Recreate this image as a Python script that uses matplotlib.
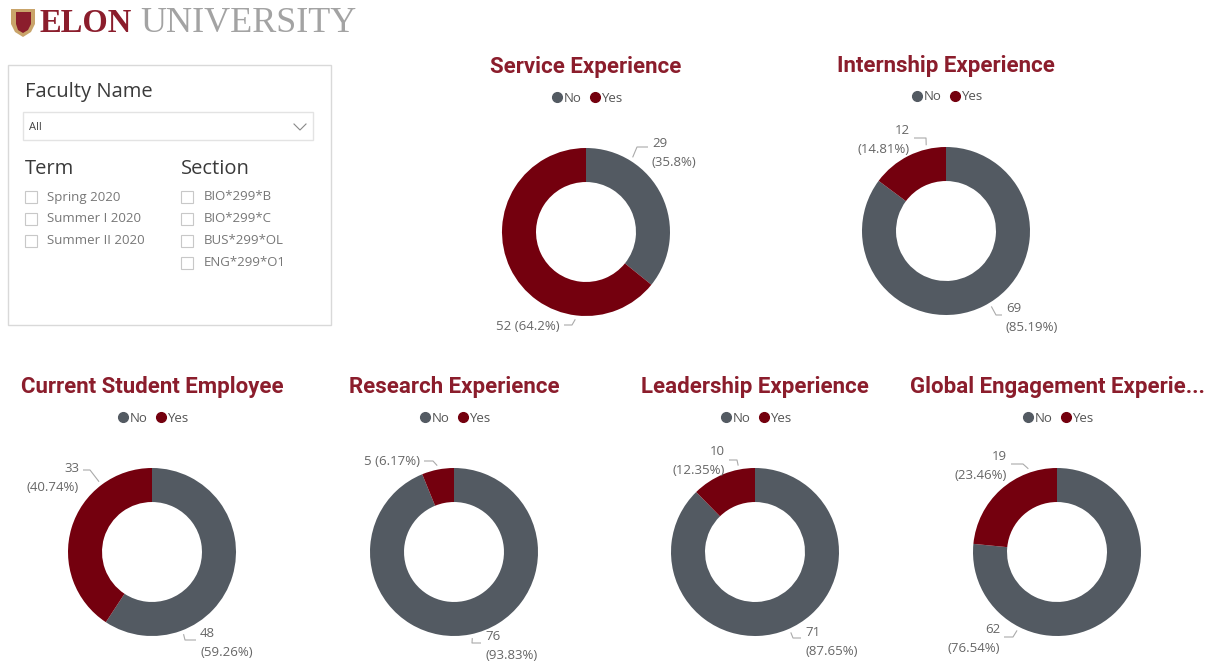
import matplotlib
matplotlib.use('Agg')
import matplotlib.pyplot as plt
from matplotlib.patches import Rectangle, Polygon
from matplotlib.lines import Line2D
import numpy as np

# data
titles = ['Service Experience', 'Internship Experience', 'Current Student Employee',
          'Research Experience', 'Leadership Experience', 'Global Engagement Experie...']
categories = ['No', 'Yes']
no_counts = [29, 69, 48, 76, 71, 62]
yes_counts = [52, 12, 33, 5, 10, 19]

terms = ['Spring 2020', 'Summer I 2020', 'Summer II 2020']
sections = ['BIO*299*B', 'BIO*299*C', 'BUS*299*OL', 'ENG*299*O1']

# layout (pixels)
W, H = 1212, 666
R = 84.0  # donut radius in px
centers = [(586, 232), (946, 231), (152, 552), (454, 552), (755, 552), (1057, 552)]
# per slice label layout: leader angle, elbow (dx, dy), text x, text y, ha, one line
label_layout = [
    [(58, (51, -85), 66, -79, 'left', False), (-97, (-14, 93), -26, 95, 'right', True)],
    [(-59, (50, 84), 60, 87, 'left', False), (103, (-20, -93), -36, -91, 'right', False)],
    [(-69, (33, 88), 48, 91, 'left', False), (127, (-62, -82), -73, -74, 'right', False)],
    [(-78, (18, 91), 31, 94, 'left', False), (101, (-21, -91), -34, -90, 'right', True)],
    [(-66, (38, 86), 50, 90, 'left', False), (101, (-18, -92), -30, -91, 'right', False)],
    [(-117, (-44, 85), -57, 87, 'right', False), (109, (-34, -88), -50, -86, 'right', False)],
]

gray = '#535a62'
red = '#74000e'
title_col = '#8b1d2c'
txt_col = '#666666'

fig = plt.figure(figsize=(W / 100, H / 100), dpi=100)
fig.patch.set_facecolor('white')
bg = fig.add_axes([0, 0, 1, 1])
bg.set_xlim(0, W)
bg.set_ylim(H, 0)
bg.axis('off')

# logo
shield = Polygon([(11, 9), (35, 9), (35, 24), (31, 32), (23, 37), (15, 32), (11, 24)],
                 closed=True, facecolor='#c9a46a', edgecolor='none')
bg.add_patch(shield)
inner = Polygon([(16, 12), (31, 12), (31, 24), (28, 30), (23, 33), (18, 30), (16, 24)],
                closed=True, facecolor='#8b1d2c', edgecolor='none')
bg.add_patch(inner)
bg.text(39, 32, 'ELON', fontsize=23.5, fontweight='bold', family='Liberation Serif',
        color='#8b1d2c', va='baseline', ha='left')
bg.text(140, 32, 'UNIVERSITY', fontsize=26, family='Liberation Serif',
        color='#a3a3a3', va='baseline', ha='left')

# slicer panel
bg.add_patch(Rectangle((8, 65), 323, 260, facecolor='white', edgecolor='#d9d9d9', lw=1))
bg.text(25, 92, 'Faculty Name', fontsize=14.5, family='Open Sans', color='#3a3a3a', va='center')
bg.add_patch(Rectangle((23, 112), 290, 28, facecolor='white', edgecolor='#e3e3e3', lw=1))
bg.text(29, 128, 'All', fontsize=8, family='Open Sans', color='#444444', va='center')
bg.plot([294, 300, 306], [124, 130, 124], color='#888888', lw=0.8)
bg.text(25, 169, 'Term', fontsize=14.5, family='Open Sans', color='#3a3a3a', va='center')
bg.text(181, 169, 'Section', fontsize=14.5, family='Open Sans', color='#3a3a3a', va='center')
for i, t in enumerate(terms):
    y = 197 + i * 22
    bg.add_patch(Rectangle((25, y - 6), 12, 12, facecolor='white', edgecolor='#c8c8c8', lw=0.8))
    bg.text(47, y, t, fontsize=9.5, family='Open Sans', color='#777777', va='center')
for i, s in enumerate(sections):
    y = 197 + i * 22
    bg.add_patch(Rectangle((181, y - 6), 12, 12, facecolor='white', edgecolor='#c8c8c8', lw=0.8))
    bg.text(204, y, s, fontsize=9.5, family='Open Sans', color='#777777', va='center')


def fmt_pct(v):
    return ('%.2f' % v).rstrip('0').rstrip('.') + '%'


RA = 1.6 * R
for k in range(len(titles)):
    cx, cy = centers[k]
    vals = [no_counts[k], yes_counts[k]]
    total = sum(vals)
    ax = fig.add_axes([(cx - RA) / W, 1 - (cy + RA) / H, 2 * RA / W, 2 * RA / H])
    ax.pie(vals, colors=[gray, red], startangle=90, counterclock=False, radius=1,
           wedgeprops=dict(width=0.405, edgecolor='none'))
    ax.set_xlim(-1.6, 1.6)
    ax.set_ylim(-1.6, 1.6)
    ax.axis('off')

    for j, v in enumerate(vals):
        ang, (ex, ey), tx, ty, ha, one_line = label_layout[k][j]
        sgn = 1 if ha == 'left' else -1
        sx, sy = 88 * np.cos(np.radians(ang)), -88 * np.sin(np.radians(ang))
        hx = tx - sgn * 4
        ax.plot([sx / R, ex / R, hx / R], [-sy / R, -ey / R, -ey / R],
                color='#aaaaaa', lw=0.8, solid_capstyle='butt')
        pct = fmt_pct(100 * v / total)
        s = '%d (%s)' % (v, pct) if one_line else '%d\n(%s)' % (v, pct)
        ax.text(tx / R, -ty / R, s, ha=ha, va='center', multialignment=ha,
                fontsize=9.5, family='Open Sans', color=txt_col, linespacing=1.6)

    bg.text(cx, cy - 165, titles[k], ha='center', va='center', fontsize=16,
            family='Roboto', fontweight='bold', color=title_col)
    handles = [Line2D([], [], marker='o', ls='none', color=c, markersize=7)
               for c in [gray, red]]
    fig.legend(handles, categories, loc='center', ncol=2, frameon=False,
               bbox_to_anchor=(cx / W, 1 - (cy - 134) / H), handletextpad=-0.1,
               columnspacing=0.4, handlelength=1.2,
               prop={'family': 'Open Sans', 'size': 9.5}, labelcolor='#555555')

fig.savefig('out.png', dpi=100)
